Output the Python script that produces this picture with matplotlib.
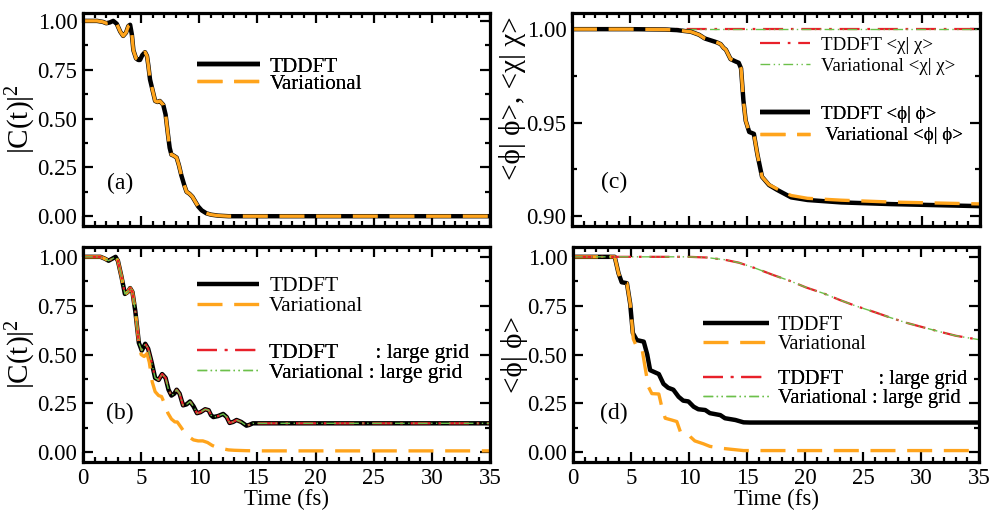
import matplotlib
matplotlib.use("Agg")
import matplotlib.pyplot as plt
from matplotlib.ticker import MultipleLocator, FormatStrFormatter

plt.rcParams['font.family'] = ['Liberation Serif', 'DejaVu Serif']
plt.rcParams['mathtext.fontset'] = 'custom'
plt.rcParams['mathtext.rm'] = 'Liberation Serif'
plt.rcParams['mathtext.it'] = 'Liberation Serif:italic'

# ---- data ----
# (a) |C(t)|^2, TDDFT and Variational coincide
t_a = [0, 1.2, 1.7, 2.0, 2.3, 2.6, 2.9, 3.2, 3.45, 3.7, 3.9, 4.05, 4.2, 4.33, 4.56,
       4.75, 4.9, 5.1, 5.33, 5.5, 5.62, 5.76, 6.0, 6.2, 6.4, 6.6, 6.9, 7.1, 7.3, 7.45,
       7.6, 7.8, 8.05, 8.25, 8.45, 8.7, 8.9, 9.15, 9.4, 9.6, 9.9, 10.2, 10.6, 11.0,
       11.6, 12.5, 35]
c2_a = [1.0, 1.0, 0.995, 0.988, 0.992, 1.0, 0.985, 0.945, 0.923, 0.94, 0.974, 0.98,
        0.93, 0.85, 0.808, 0.80, 0.80, 0.825, 0.84, 0.82, 0.77, 0.70, 0.64, 0.59,
        0.585, 0.59, 0.57, 0.52, 0.42, 0.35, 0.315, 0.31, 0.30, 0.26, 0.21, 0.16,
        0.125, 0.115, 0.10, 0.08, 0.05, 0.03, 0.015, 0.008, 0.003, 0.0, 0.0]

# (b) |C(t)|^2
t_b = [0, 1.5, 1.9, 2.2, 2.5, 2.8, 3.0, 3.3, 3.6, 3.85, 4.05, 4.25, 4.5, 4.8, 5.05,
       5.35, 5.6, 5.9, 6.2, 6.5, 6.8, 7.1, 7.35, 7.6, 7.85, 8.05, 8.3, 8.6, 8.9, 9.2,
       9.5, 9.8, 10.1, 10.5, 10.8, 11.0, 11.2, 11.6, 12.05, 12.35, 12.6, 12.9, 13.2,
       13.6, 14.05, 14.3, 14.6, 15.0, 35]
c2_b_tddft = [1.0, 1.0, 0.99, 0.98, 0.99, 1.0, 0.98, 0.90, 0.81, 0.82, 0.84, 0.82,
              0.72, 0.56, 0.52, 0.555, 0.53, 0.46, 0.38, 0.37, 0.40, 0.38, 0.32, 0.29,
              0.30, 0.32, 0.30, 0.24, 0.245, 0.26, 0.235, 0.20, 0.205, 0.22, 0.215,
              0.19, 0.18, 0.185, 0.196, 0.18, 0.15, 0.155, 0.165, 0.155, 0.136, 0.14,
              0.148, 0.148, 0.148]
c2_b_large = c2_b_tddft
t_b_var = [0, 1.5, 1.9, 2.2, 2.5, 2.8, 3.0, 3.3, 3.6, 3.85, 4.05, 4.25, 4.5, 4.8,
           5.0, 5.25, 5.5, 5.7, 5.95, 6.2, 6.5, 6.75, 7.0, 7.3, 7.6, 7.9, 8.1, 8.4,
           8.8, 9.2, 9.5, 9.9, 10.3, 10.7, 11.1, 11.5, 12.0, 12.5, 13.0, 14.0, 15.0, 35]
c2_b_var = [1.0, 1.0, 0.99, 0.98, 0.99, 1.0, 0.98, 0.90, 0.81, 0.82, 0.84, 0.82,
            0.72, 0.56, 0.50, 0.49, 0.505, 0.46, 0.36, 0.31, 0.29, 0.285, 0.25, 0.20,
            0.17, 0.155, 0.155, 0.13, 0.095, 0.075, 0.063, 0.058, 0.058, 0.05, 0.035,
            0.025, 0.018, 0.012, 0.01, 0.008, 0.007, 0.007]

# (c) norms
t_c = [0, 5, 8, 9, 10.2, 10.9, 11.4, 11.9, 12.4, 12.75, 13.0, 13.2, 13.6, 14.0, 14.3,
       14.5, 14.7, 14.9, 15.2, 15.6, 15.9, 16.3, 16.9, 17.6, 18.8, 20.2, 23.1, 27.4, 35]
phi_c_tddft = [1.0, 1.0, 0.9998, 0.9995, 0.9986, 0.997, 0.995, 0.994, 0.993, 0.992,
               0.990, 0.989, 0.984, 0.9828, 0.982, 0.979, 0.962, 0.951, 0.945, 0.944,
               0.933, 0.921, 0.9166, 0.914, 0.910, 0.9086, 0.9073, 0.9064, 0.9053]
phi_c_var = [1.0, 1.0, 0.9998, 0.9995, 0.9986, 0.997, 0.995, 0.994, 0.993, 0.992,
             0.990, 0.989, 0.984, 0.9828, 0.982, 0.979, 0.962, 0.951, 0.945, 0.944,
             0.933, 0.921, 0.9168, 0.9145, 0.911, 0.9095, 0.9085, 0.9075, 0.9065]
t_chi = [0, 35]
chi_c_tddft = [1.0, 1.0]
chi_c_var = [1.0, 1.0]

# (d) <phi|phi>
t_d = [0, 3.6, 3.93, 4.2, 4.65, 4.93, 5.16, 5.5, 6.1, 6.4, 6.65, 7.4, 7.8, 8.2, 8.65,
       9.1, 9.5, 9.95, 10.4, 10.8, 11.4, 11.8, 12.7, 13.1, 14.0, 14.7, 15.25, 35]
phi_d_tddft = [1.0, 1.0, 0.915, 0.87, 0.865, 0.76, 0.61, 0.574, 0.566, 0.50, 0.42,
               0.40, 0.35, 0.33, 0.32, 0.284, 0.264, 0.26, 0.233, 0.22, 0.216, 0.20,
               0.19, 0.174, 0.165, 0.153, 0.152, 0.152]
t_d_var = [0, 3.6, 3.93, 4.2, 4.65, 4.93, 5.2, 5.5, 5.95, 6.2, 6.5, 6.8, 7.4, 7.65,
           7.95, 8.5, 8.95, 9.25, 9.8, 10.1, 10.5, 11.25, 11.8, 13.0, 14.7, 35]
phi_d_var = [1.0, 1.0, 0.915, 0.87, 0.865, 0.76, 0.58, 0.537, 0.53, 0.44, 0.335,
             0.30, 0.298, 0.233, 0.174, 0.165, 0.157, 0.106, 0.10, 0.08, 0.058, 0.043,
             0.03, 0.019, 0.0085, 0.0085]
t_d_large = [0, 10, 11.5, 12.4, 13.0, 14.3, 15.8, 17.3, 18.7, 20.1, 21.6, 23.0, 24.4,
             25.9, 27.3, 28.7, 30.2, 31.6, 33.0, 35]
phi_d_large = [1.0, 1.0, 0.9966, 0.99, 0.986, 0.97, 0.94, 0.906, 0.877, 0.843, 0.813,
               0.779, 0.748, 0.719, 0.69, 0.663, 0.639, 0.617, 0.596, 0.576]

# ---- styles ----
ORANGE = '#ffa41c'
RED = '#e8202a'
GREEN = '#6cc04a'
k_style = dict(color='black', lw=3.2, solid_capstyle='butt')
o_style = dict(color=ORANGE, lw=2.4, dashes=(7.5, 3.5))
r_style = dict(color=RED, lw=1.6, dashes=(9, 3.5, 1.2, 3.5))
g_style = dict(color=GREEN, lw=1.0, dashes=(7, 2.5, 1, 2.5, 1, 2.5))


def setup(ax, ymaj, ymin, ylim, bottom):
    ax.set_xlim(0, 35)
    ax.set_ylim(*ylim)
    ax.xaxis.set_major_locator(MultipleLocator(5))
    ax.xaxis.set_minor_locator(MultipleLocator(1))
    ax.yaxis.set_major_locator(MultipleLocator(ymaj))
    ax.yaxis.set_minor_locator(MultipleLocator(ymin))
    ax.yaxis.set_major_formatter(FormatStrFormatter('%.2f'))
    ax.tick_params(which='both', direction='in', top=True, right=True,
                   labelsize=16.5, width=1.6, pad=4)
    ax.tick_params(which='major', length=7.5)
    ax.tick_params(which='minor', length=3.8)
    for s in ax.spines.values():
        s.set_linewidth(2.3)
    if bottom:
        ax.set_xlabel('Time (fs)', fontsize=16.5, labelpad=0)
    else:
        ax.tick_params(labelbottom=False)


def leg(ax, handles, labels, x, y, fs, hl, pad=0.45, sp=0.0):
    lg = ax.legend(handles, labels, loc='upper left', bbox_to_anchor=(x, y),
                   frameon=False, fontsize=fs, handlelength=hl, handletextpad=pad,
                   labelspacing=sp, borderpad=0, borderaxespad=0)
    ax.add_artist(lg)


fig = plt.figure(figsize=(9.93, 5.13), dpi=100)
ax_a = fig.add_axes([0.0836, 0.5595, 0.410, 0.415])
ax_b = fig.add_axes([0.0836, 0.0994, 0.410, 0.419])
ax_c = fig.add_axes([0.5760, 0.5595, 0.411, 0.415])
ax_d = fig.add_axes([0.5770, 0.0994, 0.409, 0.419])

# (a)
setup(ax_a, 0.25, 0.125, (-0.05, 1.04), False)
ha1, = ax_a.plot(t_a, c2_a, **k_style)
ha2, = ax_a.plot(t_a, c2_a, **o_style)
leg(ax_a, [ha1, ha2], ['TDDFT', 'Variational'], 0.28, 0.795, 15.2, 3.0, sp=-0.12)
ax_a.text(3.2, 0.17, '(a)', fontsize=17, ha='center', va='center')
ax_a.set_ylabel('|C(t)|$^2$', fontsize=21, labelpad=0)

# (b)
setup(ax_b, 0.25, 0.125, (-0.05, 1.05), True)
hb1, = ax_b.plot(t_b, c2_b_tddft, **k_style)
hb2, = ax_b.plot(t_b_var, c2_b_var, **o_style)
hb3, = ax_b.plot(t_b, c2_b_large, **r_style)
hb4, = ax_b.plot(t_b, c2_b_large, **g_style)
leg(ax_b, [hb1, hb2], ['TDDFT', 'Variational'], 0.28, 0.865, 15.5, 2.9)
leg(ax_b, [hb3, hb4], ['TDDFT       : large grid', 'Variational : large grid'],
    0.28, 0.555, 15.5, 2.9)
ax_b.text(3.2, 0.20, '(b)', fontsize=17, ha='center', va='center')
ax_b.set_ylabel('|C(t)|$^2$', fontsize=21, labelpad=0)

# (c)
setup(ax_c, 0.05, 0.025, (0.8947, 1.0086), False)
hc1, = ax_c.plot(t_chi, chi_c_tddft, **r_style)
hc2, = ax_c.plot(t_chi, chi_c_var, **g_style)
hc3, = ax_c.plot(t_c, phi_c_tddft, **k_style)
hc4, = ax_c.plot(t_c, phi_c_var, **o_style)
leg(ax_c, [hc1, hc2], ['TDDFT <χ| χ>', 'Variational <χ| χ>'], 0.46, 0.89,
    13.6, 2.65, pad=0.6, sp=0.22)
leg(ax_c, [hc3, hc4], ['TDDFT <ϕ| ϕ>', ' Variational <ϕ| ϕ>'], 0.46, 0.565,
    13.6, 2.65, pad=0.6, sp=0.22)
ax_c.text(3.6, 0.918, '(c)', fontsize=17, ha='center', va='center')
ax_c.set_ylabel('<ϕ| ϕ>, <χ| χ>', fontsize=21, labelpad=0, y=0.6)

# (d)
setup(ax_d, 0.25, 0.125, (-0.05, 1.05), True)
hd1, = ax_d.plot(t_d, phi_d_tddft, **k_style)
hd2, = ax_d.plot(t_d_var, phi_d_var, **o_style)
hd3, = ax_d.plot(t_d_large, phi_d_large, **r_style)
hd4, = ax_d.plot(t_d_large, phi_d_large, **g_style)
leg(ax_d, [hd1, hd2], ['TDDFT', 'Variational'], 0.32, 0.68, 14.6, 3.25)
leg(ax_d, [hd3, hd4], ['TDDFT       : large grid', 'Variational : large grid'],
    0.32, 0.43, 14.6, 3.25)
ax_d.text(3.5, 0.20, '(d)', fontsize=17, ha='center', va='center')
ax_d.set_ylabel('<ϕ| ϕ>', fontsize=21, labelpad=0)

fig.savefig('out.png', dpi=100)
